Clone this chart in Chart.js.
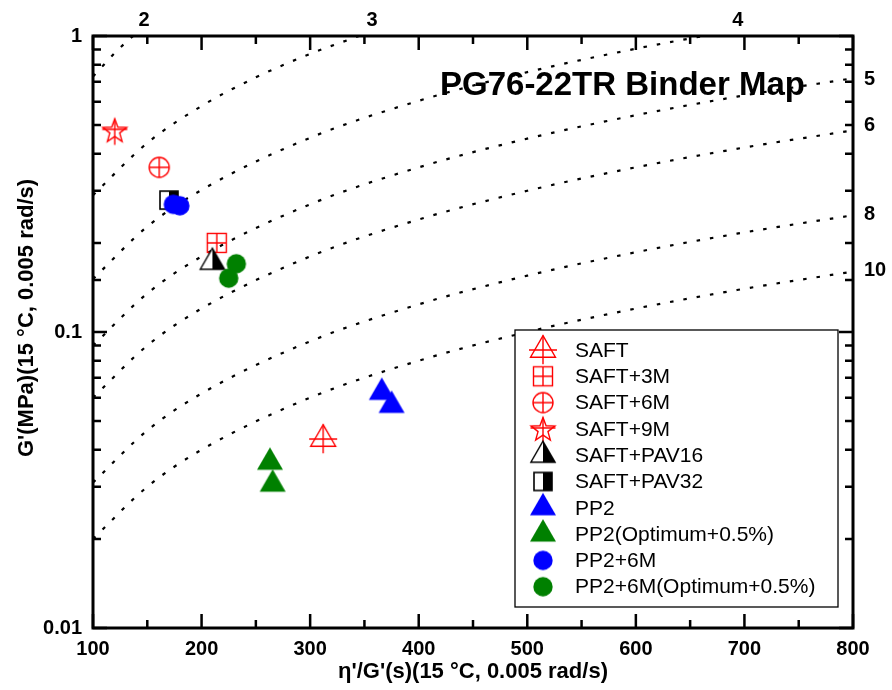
<!DOCTYPE html>
<html>
<head>
<meta charset="utf-8">
<script src="https://cdn.jsdelivr.net/npm/chart.js@4.4.1/dist/chart.umd.min.js"></script>
<style>
  html, body { margin: 0; padding: 0; background: #fff; }
  #wrap { width: 892px; height: 690px; }
</style>
</head>
<body>
<div id="wrap"><canvas id="binderMap" width="892" height="690"></canvas></div>
<script>
// ---- binder samples (x = eta'/G' in s, y = G' in MPa) ----
const seriesNames = [
  "SAFT", "SAFT+3M", "SAFT+6M", "SAFT+9M", "SAFT+PAV16", "SAFT+PAV32",
  "PP2", "PP2(Optimum+0.5%)", "PP2+6M", "PP2+6M(Optimum+0.5%)"
];
const saftX = [312],        saftY = [0.0435];
const saft3mX = [214],      saft3mY = [0.20];
const saft6mX = [161],      saft6mY = [0.36];
const saft9mX = [120],      saft9mY = [0.48];
const saftPav16X = [210],   saftPav16Y = [0.172];
const saftPav32X = [170],   saftPav32Y = [0.279];
const pp2X = [366, 375],    pp2Y = [0.0625, 0.0565];
const pp2OptX = [263, 265.5], pp2OptY = [0.0363, 0.0306];
const pp26mX = [174, 180],  pp26mY = [0.27, 0.267];
const pp26mOptX = [232, 225], pp26mOptY = [0.170, 0.152];

// ---- ductility contours (cm) ----
const contourLabels = ["2", "3", "4", "5", "6", "8", "10"];
const duct2X = [100, 110, 120, 130, 137];
const duct2G = [0.73, 0.80, 0.876, 0.95, 1.0];
const duct3X = [100, 150, 200, 250, 300, 345];
const duct3G = [0.29, 0.435, 0.58, 0.725, 0.87, 1.0];
const duct4X = [100, 150, 200, 300, 400, 500, 600, 662];
const duct4G = [0.151, 0.227, 0.302, 0.453, 0.604, 0.755, 0.906, 1.0];
const ductX = [100, 150, 200, 300, 400, 500, 600, 700, 800];
const duct5G = [0.09, 0.135, 0.18, 0.27, 0.36, 0.45, 0.54, 0.63, 0.72];
const duct6G = [0.06, 0.09, 0.12, 0.18, 0.24, 0.30, 0.36, 0.42, 0.48];
const duct8G = [0.031, 0.0465, 0.062, 0.093, 0.124, 0.155, 0.186, 0.217, 0.248];
const duct10G = [0.02, 0.03, 0.04, 0.06, 0.08, 0.10, 0.12, 0.14, 0.16];
// where the contour labels sit: top ones by x value, right ones by G' value
const topLabelX = [147, 357, 694];
const rightLabelG = [0.713, 0.498, 0.249, 0.1615];

const FONT = '"Liberation Sans", Arial, Helvetica, sans-serif';
const RED = "#FF0000", BLUE = "#0000FF", GREEN = "#008000";

const pts = (xs, ys) => xs.map((x, i) => ({ x, y: ys[i] }));

// ---- marker images ----
function marker(kind, color) {
  const size = 36;
  const c = document.createElement("canvas");
  c.width = size; c.height = size;
  const g = c.getContext("2d");
  const m = size / 2;
  g.strokeStyle = color;
  g.fillStyle = color;
  g.lineWidth = 1.4;
  const tri = (r) => {
    g.beginPath();
    g.moveTo(m, m - r);
    g.lineTo(m + r * 0.866, m + r / 2);
    g.lineTo(m - r * 0.866, m + r / 2);
    g.closePath();
  };
  if (kind === "triCross") {
    const r = 14.4;
    tri(r); g.stroke();
    g.beginPath();
    g.moveTo(m, m - r); g.lineTo(m, m + r / 2 + 7);
    g.moveTo(m - 14, m); g.lineTo(m + 14, m);
    g.stroke();
  } else if (kind === "squareCross") {
    const h = 9.5;
    g.strokeRect(m - h, m - h, 2 * h, 2 * h);
    g.beginPath();
    g.moveTo(m, m - h); g.lineTo(m, m + h);
    g.moveTo(m - h, m); g.lineTo(m + h, m);
    g.stroke();
  } else if (kind === "circleCross") {
    const r = 10;
    g.beginPath(); g.arc(m, m, r, 0, Math.PI * 2); g.stroke();
    g.beginPath();
    g.moveTo(m, m - r); g.lineTo(m, m + r);
    g.moveTo(m - r, m); g.lineTo(m + r, m);
    g.stroke();
  } else if (kind === "starCross") {
    const R = 12.5, ri = 5.2;
    g.beginPath();
    for (let i = 0; i < 10; i++) {
      const a = -Math.PI / 2 + i * Math.PI / 5;
      const rr = i % 2 === 0 ? R : ri;
      const px = m + rr * Math.cos(a), py = m + 1 + rr * Math.sin(a);
      if (i === 0) g.moveTo(px, py); else g.lineTo(px, py);
    }
    g.closePath(); g.stroke();
    g.beginPath();
    g.moveTo(m, m + 1 - R); g.lineTo(m, m + R + 2);
    g.moveTo(m - R, m - 1); g.lineTo(m + R, m - 1);
    g.stroke();
  } else if (kind === "triHalf") {
    const r = 14;
    g.strokeStyle = "#000";
    tri(r); g.fillStyle = "#fff"; g.fill();
    g.beginPath();
    g.moveTo(m, m - r);
    g.lineTo(m + r * 0.866, m + r / 2);
    g.lineTo(m, m + r / 2);
    g.closePath();
    g.fillStyle = "#000"; g.fill();
    tri(r); g.stroke();
  } else if (kind === "squareHalf") {
    const h = 9;
    g.fillStyle = "#fff"; g.fillRect(m - h, m - h, 2 * h, 2 * h);
    g.fillStyle = "#000"; g.fillRect(m, m - h, h, 2 * h);
    g.strokeStyle = "#000"; g.lineWidth = 1.6;
    g.strokeRect(m - h, m - h, 2 * h, 2 * h);
  } else if (kind === "triFill") {
    tri(15); g.fill();
  } else if (kind === "circleFill") {
    g.beginPath(); g.arc(m, m, 9.7, 0, Math.PI * 2); g.fill();
  }
  return c;
}

const markers = [
  marker("triCross", RED), marker("squareCross", RED), marker("circleCross", RED),
  marker("starCross", RED), marker("triHalf", "#000"), marker("squareHalf", "#000"),
  marker("triFill", BLUE), marker("triFill", GREEN), marker("circleFill", BLUE),
  marker("circleFill", GREEN)
];

const sampleData = [
  pts(saftX, saftY), pts(saft3mX, saft3mY), pts(saft6mX, saft6mY), pts(saft9mX, saft9mY),
  pts(saftPav16X, saftPav16Y), pts(saftPav32X, saftPav32Y), pts(pp2X, pp2Y),
  pts(pp2OptX, pp2OptY), pts(pp26mX, pp26mY), pts(pp26mOptX, pp26mOptY)
];

const contourData = [
  pts(duct2X, duct2G), pts(duct3X, duct3G), pts(duct4X, duct4G), pts(ductX, duct5G),
  pts(ductX, duct6G), pts(ductX, duct8G), pts(ductX, duct10G)
];

const datasets = [];
sampleData.forEach((d, i) => {
  datasets.push({
    label: seriesNames[i],
    data: d,
    pointStyle: markers[i],
    pointRadius: 10,
    pointHoverRadius: 10,
    order: 20 - i
  });
});
contourData.forEach((d, i) => {
  datasets.push({
    label: "D" + contourLabels[i],
    data: d,
    showLine: true,
    pointRadius: 0,
    borderColor: "#000",
    borderWidth: 2.2,
    borderDash: [3.5, 10],
    cubicInterpolationMode: "monotone",
    order: 100
  });
});

// ---- frame, ticks, legend, labels ----
const decorPlugin = {
  id: "decor",
  afterDatasetsDraw(chart) {
    const { ctx, chartArea: a, scales } = chart;
    const xs = scales.x, ys = scales.y;
    ctx.save();

    // title
    ctx.fillStyle = "#000";
    ctx.font = "bold 33px " + FONT;
    ctx.textAlign = "left";
    ctx.textBaseline = "middle";
    ctx.fillText("PG76-22TR Binder Map", 440, 86);

    // legend box
    const bx = a.right - 338, by = a.top + 294, bw = 323, bh = 277;
    ctx.fillStyle = "#fff";
    ctx.fillRect(bx, by, bw, bh);
    ctx.strokeStyle = "#000";
    ctx.lineWidth = 1.3;
    ctx.strokeRect(bx, by, bw, bh);
    ctx.font = "21px " + FONT;
    ctx.fillStyle = "#000";
    seriesNames.forEach((name, i) => {
      const cy = by + 20 + i * 26.3;
      const mk = markers[i];
      ctx.drawImage(mk, bx + 28 - mk.width / 2, cy - mk.height / 2);
      ctx.fillText(name, bx + 60, cy + 1);
    });

    // contour labels
    ctx.font = "bold 20px " + FONT;
    ctx.textAlign = "center";
    topLabelX.forEach((v, i) => {
      ctx.fillText(contourLabels[i], xs.getPixelForValue(v), 20);
    });
    ctx.textAlign = "left";
    rightLabelG.forEach((v, i) => {
      ctx.fillText(contourLabels[i + 3], a.right + 11, ys.getPixelForValue(v));
    });

    // axis titles
    ctx.font = "bold 22px " + FONT;
    ctx.textAlign = "center";
    ctx.fillText("\u03b7'/G'(s)(15 \u00b0C, 0.005 rad/s)", (a.left + a.right) / 2, 672);
    ctx.save();
    ctx.translate(27, 318);
    ctx.rotate(-Math.PI / 2);
    ctx.fillText("G'(MPa)(15 \u00b0C, 0.005 rad/s)", 0, 0);
    ctx.restore();

    // tick marks on all four sides
    ctx.strokeStyle = "#000";
    ctx.lineWidth = 2.5;
    ctx.beginPath();
    for (let v = xs.min; v <= xs.max; v += 50) {
      const px = xs.getPixelForValue(v);
      const len = v % 100 === 0 ? 14 : 8;
      ctx.moveTo(px, a.bottom); ctx.lineTo(px, a.bottom - len);
      ctx.moveTo(px, a.top); ctx.lineTo(px, a.top + len);
    }
    ys.ticks.forEach((t) => {
      const py = ys.getPixelForValue(t.value);
      const lg = Math.log10(t.value);
      const len = Math.abs(lg - Math.round(lg)) < 1e-9 ? 14 : 8;
      ctx.moveTo(a.left, py); ctx.lineTo(a.left + len, py);
      ctx.moveTo(a.right, py); ctx.lineTo(a.right - len, py);
    });
    ctx.stroke();
    ctx.lineWidth = 3;
    ctx.strokeRect(a.left, a.top, a.right - a.left, a.bottom - a.top);
    ctx.restore();
  }
};

new Chart(document.getElementById("binderMap"), {
  type: "scatter",
  data: { datasets },
  plugins: [decorPlugin],
  options: {
    responsive: false,
    animation: false,
    layout: { padding: { left: 0, right: 39, top: 36, bottom: 0 } },
    plugins: {
      legend: { display: false },
      tooltip: { enabled: false },
      title: { display: false }
    },
    scales: {
      x: {
        type: "linear",
        min: 100,
        max: 800,
        afterFit: (s) => { s.height = 62; },
        grid: { display: false, drawTicks: false },
        border: { display: false },
        ticks: {
          stepSize: 100,
          autoSkip: false,
          maxRotation: 0,
          padding: 9,
          color: "#000",
          font: { family: FONT, size: 20, weight: "bold" }
        }
      },
      y: {
        type: "logarithmic",
        min: 0.01,
        max: 1,
        afterFit: (s) => { s.width = 93; },
        grid: { display: false, drawTicks: false },
        border: { display: false },
        ticks: {
          autoSkip: false,
          padding: 11,
          color: "#000",
          font: { family: FONT, size: 20, weight: "bold" },
          callback: (v) => {
            const lg = Math.log10(v);
            return Math.abs(lg - Math.round(lg)) < 1e-9 ? String(v) : "";
          }
        }
      }
    }
  }
});
</script>
</body>
</html>
